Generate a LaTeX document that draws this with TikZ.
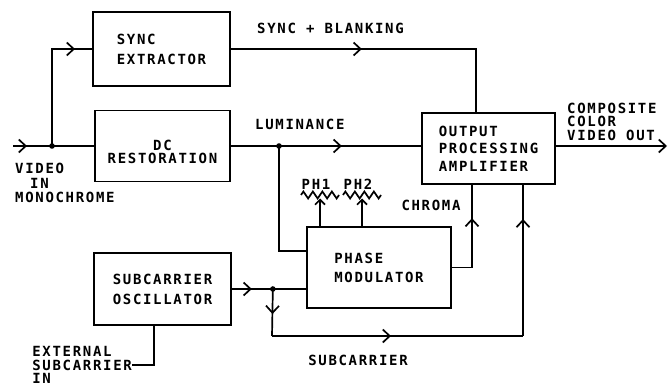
\documentclass[tikz,border=0pt]{standalone}
\usepackage{fontspec}
\newfontfamily\plotfont[LetterSpace=12]{DejaVu Sans Mono}
\usetikzlibrary{arrows.meta, positioning, calc, decorations.markings, decorations.pathmorphing}

\begin{document}
\begin{tikzpicture}[x=1pt, y=-1pt,
  wire/.style={line width=1.7pt},
  lbl/.style={font=\plotfont\bfseries\fontsize{14pt}{13.5pt}\selectfont, inner sep=0pt},
  block/.style={draw, line width=1.7pt, lbl},
  midarr/.style={postaction={decorate}, decoration={markings,
    mark=at position #1 with {\arrow{Straight Barb[length=7pt, width=13pt]}}}}]
  \useasboundingbox (0,0) rectangle (668,390);

  \node[block, minimum width=137pt, minimum height=74pt, align=left] (sync) at (161.5,49) {SYNC\\[6.5pt]EXTRACTOR};
  \node[block, minimum width=135pt, minimum height=71pt, align=center] (dcr) at (162.5,146) {\rule{0pt}{22pt}DC\\[0pt]RESTORATION};
  \node[block, minimum width=137pt, minimum height=72pt, align=center] (osc) at (162.5,289) {SUBCARRIER\\[6.5pt]OSCILLATOR};
  \node[block, minimum width=144pt, minimum height=81pt, align=left] (phase) at (379,267.5) {PHASE\\[5.5pt]MODULATOR};
  \node[block, minimum width=133pt, minimum height=71pt, align=left] (opa) at (488.5,148.5) {OUTPUT\\[4pt]PROCESSING\\[4pt]AMPLIFIER};

  \coordinate (vin) at (13,146);
  \coordinate (jin) at (52,146);
  \coordinate (jlum) at (279,146);
  \coordinate (jsub) at ([xshift=41pt]osc.east);
  \coordinate (sbend) at (476,49);
  \coordinate (sbl) at (272,336);
  \coordinate (sbr) at (523,336);
  \coordinate (vout) at (667,146);

  \node[lbl, anchor=west, align=left] (vidin) at (15,183) {VIDEO\\[1pt]\hspace*{15pt}IN\\[1pt]MONOCHROME};
  \node[lbl, anchor=base west] (syncl) at (257,34) {SYNC + BLANKING};
  \node[lbl, anchor=base west] (luml) at (255,130) {LUMINANCE};
  \node[lbl, anchor=base] (chromal) at (431,210) {CHROMA};
  \node[lbl, anchor=base] (subl) at (358,365) {SUBCARRIER};
  \node[lbl, anchor=west, align=left] (compl) at (567,121.5) {COMPOSITE\\COLOR\\VIDEO OUT};
  \node[lbl, anchor=east, align=left] (extl) at (132,365) {EXTERNAL\\SUBCARRIER\\IN};

  \draw[wire, midarr=14pt] (vin) -- (jin) -- (dcr.west);
  \draw[wire, midarr=120pt] (jin) |- (sync.west);
  \draw[wire, midarr=131pt] (sync.east) -- (sbend) -- (sbend |- opa.north);
  \draw[wire, midarr=111pt] (dcr.east) -- (jlum) -- (jlum -| opa.west);
  \draw[wire] (jlum) |- ([yshift=-25pt]phase.north west);
  \draw[wire, midarr=20pt] (osc.east) -- (jsub) -- (jsub -| phase.west);
  \draw[wire, midarr=25pt] (jsub) -- (sbl);
  \draw[wire, midarr=119pt] (sbl) -- (sbr);
  \draw[wire, midarr=117pt] (sbr) -- (sbr |- opa.south);
  \draw[wire, midarr=69.5pt] (phase.east) -| ([xshift=-16.5pt]opa.south);
  \draw[wire, -{Straight Barb[length=7pt, width=13pt]}] (vout -| opa.east) -- (vout);
  \draw[wire] ([xshift=-8.5pt]osc.south) |- (extl.east);

  \foreach \j in {jin, jlum, jsub}
    \fill (\j) circle (2.8pt);

  % phase pots
  \foreach \k/\xx in {1/320, 2/362} {
    \coordinate (pot\k) at (\xx,195);
    \draw[wire, decorate, decoration={zigzag, segment length=9.5pt, amplitude=3.5pt}] ([xshift=-19pt]pot\k) -- ([xshift=19pt]pot\k);
    \draw[wire, -{Straight Barb[length=5pt, width=10pt]}] (phase.north -| pot\k) -- ([yshift=-3.5pt]pot\k);
    \node[lbl, anchor=base] (ph\k) at ([xshift=-4pt, yshift=6pt]pot\k) {PH\k};
  }
\end{tikzpicture}
\end{document}
